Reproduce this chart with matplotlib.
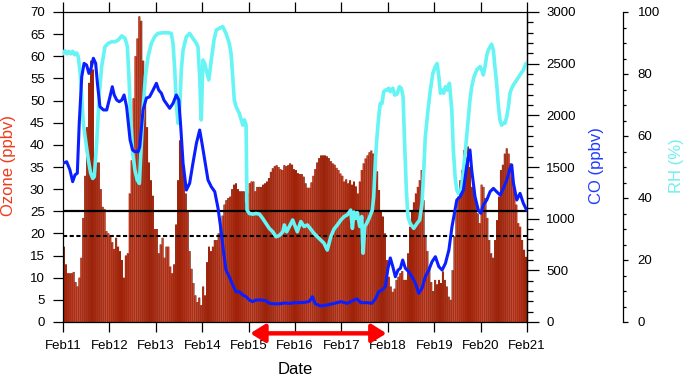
import matplotlib
matplotlib.use('Agg')
import matplotlib.pyplot as plt
from matplotlib.ticker import MultipleLocator

plt.rcParams['font.family'] = ['Liberation Sans', 'DejaVu Sans']

# ---- data (hourly ozone, ppbv) ----
day_labels = ['Feb11', 'Feb12', 'Feb13', 'Feb14', 'Feb15', 'Feb16',
              'Feb17', 'Feb18', 'Feb19', 'Feb20', 'Feb21']

ozone_feb11 = [17, 13, 11, 11, 11, 11.3, 9, 8, 10, 14.5, 23.5, 33, 44, 54, 59, 57, 36.5, 36, 36, 30, 26, 25.5, 20.5, 20]
ozone_feb12 = [19.5, 18, 16.5, 19, 17, 16, 14, 10, 15, 15.5, 29, 36.5, 50.5, 60, 64, 69, 68, 59, 51, 44, 36, 32, 28.5, 21]
ozone_feb13 = [21, 15.5, 17.5, 19, 14.5, 17, 17, 12.5, 11, 13, 22, 32, 41, 38, 33, 29, 25, 16, 12, 8.8, 6, 4.5, 5.5, 3.8]
ozone_feb14 = [8, 6, 13.5, 17, 16, 17, 18.5, 18.5, 20, 22, 24, 26.5, 27.5, 28, 28.3, 30, 31, 31.3, 30, 29.5, 29.5, 29.5, 27, 29]
ozone_feb15 = [31.3, 31.7, 31.7, 29.5, 30.5, 30.5, 30.5, 31, 31.3, 31.7, 32.5, 33.9, 34.7, 35.2, 35.4, 35, 34.5, 34.3, 35.4, 35.2, 35.4, 35.8, 35.5, 34.5]
ozone_feb16 = [34.3, 33.6, 33.4, 33.4, 32.8, 31.3, 30.3, 30.3, 31.5, 33, 34.5, 36, 37, 37.6, 37.6, 37.6, 37.4, 37, 36.3, 35.8, 35.5, 34.8, 34.3, 33.5]
ozone_feb17 = [33, 31.7, 32.2, 31.3, 32, 31, 31.7, 30.6, 29, 31.7, 34.3, 35.8, 36.9, 37.6, 38.3, 38.7, 38, 36.9, 34, 29.8, 25, 23.8, 20, 14]
ozone_feb18 = [10.2, 8, 6.8, 7.5, 9.5, 10.2, 11, 11.5, 9.5, 9.5, 15.5, 21.5, 25.3, 27, 29, 30.5, 32, 34.3, 27.5, 19.3, 16, 12.5, 9, 7]
ozone_feb19 = [9.5, 8.5, 9.5, 8.8, 11.4, 9.5, 8, 5.7, 5, 11.7, 19.3, 25.3, 28.3, 32, 34.3, 38.8, 37.3, 39.6, 35, 30.5, 29, 27.5, 24.5, 22.3]
ozone_feb20 = [31, 30.5, 28, 23.5, 18.5, 15.5, 14.5, 18.5, 23, 28.3, 34.3, 35.5, 38, 39.2, 38, 35.8, 32.8, 29.8, 26.5, 22.3, 21.5, 18.5, 16.3, 14.7]

ozone = (ozone_feb11 + ozone_feb12 + ozone_feb13 + ozone_feb14 + ozone_feb15 +
         ozone_feb16 + ozone_feb17 + ozone_feb18 + ozone_feb19 + ozone_feb20)
hours = list(range(len(ozone)))

# CO (ppbv), hours since Feb11 00:00
co_hours = [0, 1.9, 3.6, 5, 6.2, 7.4, 8.4, 9.7, 10.9, 12.2, 13.4, 14.5, 15.7, 16.9, 17.8, 19.1, 20.9, 22.6,
            24.3, 25.5, 26.5, 27.8, 29.1, 30.4, 31.6, 32.9, 34.7, 36, 37.2, 38.9, 39.7, 41.4, 43.1, 44.8, 46.6,
            48.3, 49.5, 50.9, 52.2, 53.4, 55.2, 56.9, 58.6, 59.9, 60.9, 62.1, 63.8, 65.5, 67.2, 69, 70.7, 71.9,
            73.3, 75, 76.7, 78.5, 80.2, 81.5, 82.9, 84.3, 86, 87.8, 89.5, 91.2, 93, 94.7, 96.4, 98.1, 99.8,
            102.4, 105, 106.7, 109.3, 111.9, 114.5, 117.1, 119.7, 122, 125, 127.5, 129, 130.5, 133.3, 136.7,
            140.2, 143.7, 147, 150.5, 152.2, 154, 157.4, 159.8, 161.6, 163.3, 165, 166.7, 168.1, 169.3, 170.6,
            171.9, 173.3, 174.5, 175.7, 177.1, 178.8, 180.5, 182.3, 184, 185.7, 187.4, 189.2, 190.9, 192.6,
            194.4, 196.1, 197.8, 199.6, 201.2, 203.7, 205.4, 207.1, 208.8, 210.5, 211.4, 213.1, 214.8, 216.1,
            217.4, 219.2, 220.9, 222.6, 224.3, 226.1, 227.8, 229.5, 231.2, 232.1, 233, 234.7, 236.4, 238.1, 239.8]
co_ppbv = [1536, 1551, 1471, 1358, 1423, 1440, 1923, 2374, 2503, 2487, 2406, 2455, 2552, 2503, 2310, 2084, 2052, 2052,
           2180, 2277, 2197, 2148, 2132, 2148, 2197, 2084, 1761, 1665, 1648, 1648, 1697, 2052, 2165, 2180, 2245,
           2310, 2245, 2213, 2148, 2116, 2068, 2116, 2197, 2148, 1890, 1536, 1277, 1342, 1536, 1729, 1858, 1729,
           1568, 1374, 1309, 1261, 1100, 922, 697, 503, 438, 358, 293, 293, 261, 245, 213, 197, 213,
           213, 205, 181, 176, 176, 184, 180, 187, 187, 190, 200, 245, 176, 155, 165,
           180, 197, 180, 213, 223, 187, 187, 181, 223, 293, 310, 342, 519, 620, 535,
           438, 503, 519, 600, 519, 487, 438, 374, 277, 326, 438, 503, 584, 632,
           535, 503, 567, 697, 922, 1181, 1213, 1277, 1503, 1665, 1471, 1213, 1084, 1052,
           1132, 1181, 1261, 1293, 1261, 1229, 1293, 1374, 1487, 1520, 1342, 1181, 1245, 1149, 1084]

# RH (%)
rh_hours = [0, 1, 2, 3, 4, 5, 6, 7, 7.9, 8.8, 9.7, 10.5, 11.9, 13.1, 14.3, 15.4, 16.2, 17.4, 18.8, 20, 21.7, 23.4,
            25.2, 26.9, 28.6, 30.4, 32.1, 33.3, 34.1, 35, 36.1, 37.2, 38.4, 39.5, 40.2, 41.4, 42.6, 44, 45.7,
            47.4, 49.1, 51.7, 54.3, 56, 56.9, 57.8, 58.6, 59.5, 60.4, 61.2, 62.1, 63.8, 65.5, 67.2, 69, 69.8,
            70.7, 71.5, 72.4, 73.3, 74.1, 75.4, 76.7, 78.1, 79.3, 80.8, 82.6, 84.3, 86, 86.9, 87.8, 88.6, 89.5,
            91.2, 93, 93.8, 94.7, 95.2, 96.4, 98.1, 99.8, 101.6, 103.3, 105, 106.7, 108.5, 110.2, 111.9, 113.7,
            114.5, 115.7, 117.1, 118.8, 120.5, 121.2, 123, 124.7, 126.4, 128.1, 129.8, 131.6, 133.3, 135, 136.7,
            138.5, 140.2, 141.9, 143.7, 145.4, 147.1, 148.8, 149.7, 150.5, 151.4, 152.2, 153.5, 154.5, 155.2,
            156.1, 157.1, 158.3, 160, 160.7, 161.6, 162.4, 163.3, 164.1, 165, 165.9, 166.7, 167.6, 168.5, 169.3,
            170.6, 171.6, 172.8, 174, 175, 175.9, 176.7, 177.6, 178.4, 179.6, 181.4, 183.1, 184.5, 185.7, 186.6,
            187.4, 188.8, 190, 191.3, 192.6, 193.5, 194.4, 195.2, 196.1, 196.9, 197.8, 198.7, 199.9, 201.1,
            201.9, 202.8, 203.7, 204.5, 205.4, 206.2, 207.1, 208, 208.8, 209.7, 210.5, 211.4, 212.6, 214, 215.7,
            216.6, 217.4, 218.3, 219.2, 220, 220.9, 221.7, 222.6, 223.4, 224.3, 225.1, 226, 226.9, 227.8, 228.6,
            229.5, 230.4, 231.2, 232.1, 233, 234.7, 236.4, 238.1, 239.5, 240]
rh_pct = [86.7, 87.5, 86.5, 87.3, 86.5, 87.3, 86.2, 86.8, 85.6, 81, 72.7, 64.1, 57.6, 52.3, 48, 46.3, 46.9, 57.6, 73.8, 82.4, 88.8, 89.9,
          90.4, 90.4, 91, 92.3, 91.5, 88.8, 79.1, 66.2, 54.4, 49, 45.8, 44.7, 53.3, 68.4, 79.1, 85.6, 89.9,
          92, 93.1, 93.3, 93.3, 93.1, 89.9, 81.3, 70.5, 64.1, 69.5, 81.3, 87.7, 92, 93.1, 91.5, 89.9, 88.8,
          79.1, 65.2, 84.5, 83.4, 81.3, 78.1, 84.5, 91, 94.2, 94.7, 95.3, 93.1, 89.9, 86.7, 79.1, 71.6, 69.5,
          67.3, 63.5, 65.2, 63.5, 36.1, 35, 34.8, 35, 34.8, 33.4, 31.8, 30.2, 29.1, 27.5, 27.9, 29.1,
          31.3, 29.1, 30.8, 32.9, 30.2, 29.1, 32.4, 30.8, 31.3, 30, 28.6, 27.5, 26.5, 25.4, 23.2,
          27.5, 30, 31.3, 32.9, 34, 34.6, 36.1, 30.2, 35.5, 33.4, 35.3, 30.8, 34, 22.2,
          30.8, 31.8, 33.4, 36.1, 40.4, 52.3, 59.8, 66.2, 70.5, 70.5, 74.3, 74.8, 74.8, 75.4, 74.3,
          75.4, 73.2, 73.5, 75.9, 75.4, 72.7, 57.6, 42.6, 34, 31.8, 30.2, 31.8, 32.9, 38.3, 49,
          59.8, 68.4, 74.8, 80.2, 82.4, 83.4, 79.1, 73.8, 74.8, 73.8, 75.9, 74.8, 77, 68.4,
          55.5, 46.9, 42.6, 41.5, 41.9, 43.6, 49, 54.4, 59.8, 66.2, 71.6, 75.9, 79.1, 81.3, 82.4,
          81.3, 79.7, 82.4, 86.1, 87.7, 88.8, 89.6, 87.7, 82.4, 77, 70.5, 65.2, 63.5, 64.1, 64.1,
          66.2, 69.5, 73.8, 75.4, 76.5, 78.1, 79.7, 81.3, 83.4, 83.6]

ozone_solid_line = 25
ozone_dashed_line = 19.4

# ---- figure ----
fig = plt.figure(figsize=(6.85, 3.79), dpi=100)
ax = fig.add_axes([63 / 685, 57 / 379, 464 / 685, 310 / 379])

# hourly bars: dark full-width bar with a narrower red core gives the striped look
# (snapping off, otherwise the 1.9 px wide bars band unevenly)
dark = ax.bar(hours, ozone, width=1.0, align='edge', color='#3a0a02', linewidth=0, zorder=2)
red = ax.bar([h + 0.5 for h in hours], ozone, width=0.5, align='center', color='#ff3a10',
             linewidth=0, zorder=2.1)
for p in list(dark) + list(red):
    p.set_snap(False)
ax.axhline(ozone_solid_line, color='black', lw=1.6, zorder=3)
ax.axhline(ozone_dashed_line, color='black', lw=1.5, ls=(0, (2, 1.2)), zorder=3)

ax.set_xlim(0, 240)
ax.set_ylim(0, 70)
ax.set_xticks(range(0, 241, 24))
ax.set_xticklabels(day_labels)
ax.yaxis.set_major_locator(MultipleLocator(5))
ax.tick_params(axis='x', which='major', direction='out', length=7, width=0.9,
               top=True, labeltop=False, labelsize=9.5, pad=6)
ax.tick_params(axis='y', which='major', direction='out', length=7.2, width=0.9,
               labelsize=9.5, pad=6)
for s in ax.spines.values():
    s.set_linewidth(0.9)

# RH axis (outer)
ax_rh = ax.twinx()
ax_rh.plot(rh_hours, rh_pct, color='#66f4f4', lw=2.6, solid_joinstyle='round', zorder=3)
ax_rh.set_ylim(0, 100)
ax_rh.spines['right'].set_position(('axes', 560 / 464))
for name in ['top', 'bottom', 'left']:
    ax_rh.spines[name].set_visible(False)
ax_rh.spines['right'].set_linewidth(0.9)
ax_rh.yaxis.set_major_locator(MultipleLocator(20))
ax_rh.yaxis.set_minor_locator(MultipleLocator(5))
ax_rh.tick_params(axis='y', which='major', direction='out', length=3.5, width=0.9,
                  labelsize=9.5, pad=7)
ax_rh.tick_params(axis='y', which='minor', direction='out', length=1.8, width=0.9)

# CO axis
ax_co = ax.twinx()
ax_co.plot(co_hours, co_ppbv, color='#0a1eff', lw=2.2, solid_joinstyle='round', zorder=4)
ax_co.set_ylim(0, 3000)
ax_co.set_xlim(0, 240)
for name in ['top', 'bottom', 'left']:
    ax_co.spines[name].set_visible(False)
ax_co.spines['right'].set_linewidth(0.9)
ax_co.yaxis.set_major_locator(MultipleLocator(500))
ax_co.yaxis.set_minor_locator(MultipleLocator(100))
ax_co.tick_params(axis='y', which='major', direction='out', length=8.5, width=0.9,
                  labelsize=9.5, pad=5.5)
ax_co.tick_params(axis='y', which='minor', direction='out', length=4.3, width=0.9)

# period arrow
ax.annotate('', xy=(167.3, -0.0366), xytext=(96.9, -0.0366),
            xycoords=('data', 'axes fraction'), textcoords=('data', 'axes fraction'),
            arrowprops=dict(arrowstyle='<|-|>,head_length=0.43,head_width=0.27',
                            color='red', lw=3.2, shrinkA=0, shrinkB=0, mutation_scale=20),
            annotation_clip=False)

# axis titles
fig.text(8.5 / 685, 1 - 166 / 379, 'Ozone (ppbv)', rotation=90, ha='center', va='center',
         color='#f03a1a', fontsize=12)
fig.text(596 / 685, 1 - 166 / 379, 'CO (ppbv)', rotation=90, ha='center', va='center',
         color='#1f3cff', fontsize=12)
fig.text(677 / 685, 1 - 166 / 379, 'RH (%)', rotation=90, ha='center', va='center',
         color='#70f0f0', fontsize=12)
fig.text(295 / 685, 1 - 370 / 379, 'Date', ha='center', va='center', fontsize=12)

fig.savefig('out.png', dpi=100)
